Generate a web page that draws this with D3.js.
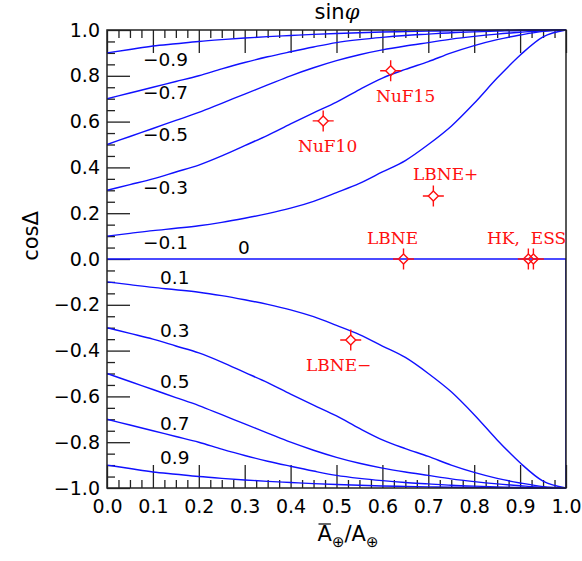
<!DOCTYPE html>
<html><head><meta charset="utf-8">
<script src="https://cdn.jsdelivr.net/npm/d3@7"></script>
<style>body{margin:0;background:#fff}</style></head>
<body>
<svg id="c" width="582" height="561"></svg>
<script>
// ---- data ----
const xGrid = [0,0.05,0.1,0.15,0.2,0.25,0.3,0.35,0.4,0.45,0.5,0.55,0.6,0.65,0.7,0.75,0.8,0.85,0.9,0.95,1.0];
const curveLabels = ["−0.9","−0.7","−0.5","−0.3","−0.1","0.1","0.3","0.5","0.7","0.9"];
const curveM09 = [0.90,0.915,0.93,0.94,0.95,0.958,0.965,0.971,0.976,0.981,0.985,0.988,0.991,0.993,0.995,0.997,0.998,0.999,1,1,1];
const curveM07 = [0.70,0.725,0.75,0.775,0.80,0.83,0.858,0.883,0.905,0.926,0.945,0.958,0.968,0.976,0.982,0.988,0.992,0.995,0.998,0.999,1];
const curveM05 = [0.50,0.535,0.57,0.605,0.64,0.68,0.72,0.76,0.80,0.835,0.866,0.892,0.913,0.93,0.945,0.96,0.972,0.982,0.99,0.997,1];
const curveM03 = [0.30,0.325,0.35,0.38,0.41,0.45,0.495,0.54,0.59,0.638,0.685,0.74,0.79,0.828,0.862,0.90,0.932,0.958,0.978,0.994,1];
const curveM01 = [0.10,0.112,0.124,0.134,0.145,0.160,0.178,0.198,0.222,0.252,0.29,0.33,0.38,0.43,0.50,0.58,0.68,0.79,0.89,0.97,1];
const curveP01 = [-0.10,-0.112,-0.124,-0.134,-0.145,-0.160,-0.178,-0.198,-0.222,-0.252,-0.29,-0.33,-0.38,-0.43,-0.50,-0.58,-0.68,-0.79,-0.89,-0.97,-1];
const curveP03 = [-0.30,-0.325,-0.35,-0.38,-0.41,-0.45,-0.495,-0.54,-0.59,-0.638,-0.685,-0.74,-0.79,-0.828,-0.862,-0.90,-0.932,-0.958,-0.978,-0.994,-1];
const curveP05 = [-0.50,-0.535,-0.57,-0.605,-0.64,-0.68,-0.72,-0.76,-0.80,-0.835,-0.866,-0.892,-0.913,-0.93,-0.945,-0.96,-0.972,-0.982,-0.99,-0.997,-1];
const curveP07 = [-0.70,-0.725,-0.75,-0.775,-0.80,-0.83,-0.858,-0.883,-0.905,-0.926,-0.945,-0.958,-0.968,-0.976,-0.982,-0.988,-0.992,-0.995,-0.998,-0.999,-1];
const curveP09 = [-0.90,-0.915,-0.93,-0.94,-0.95,-0.958,-0.965,-0.971,-0.976,-0.981,-0.985,-0.988,-0.991,-0.993,-0.995,-0.997,-0.998,-0.999,-1,-1,-1];
const zeroX = [0, 1, 1];
const zeroY = [0, 0, -1];
const expNames = ["NuF15","NuF10","LBNE+","LBNE","HK","ESS","LBNE−"];
const expX = [0.618,0.471,0.711,0.646,0.918,0.929,0.531];
const expY = [0.822,0.603,0.275,0.0,0.0,0.0,-0.354];
const xTickLabels = ["0.0","0.1","0.2","0.3","0.4","0.5","0.6","0.7","0.8","0.9","1.0"];
const yTickLabels = ["−1.0","−0.8","−0.6","−0.4","−0.2","0.0","0.2","0.4","0.6","0.8","1.0"];

// ---- layout ----
const svg = d3.select("#c");
const L = 107, R = 566, T = 30, B = 488;
const x = d3.scaleLinear([0,1],[L,R]);
const y = d3.scaleLinear([-1,1],[B,T]);
const tickCol = "#222";
const sans = "'DejaVu Sans', sans-serif";
const serif = "'DejaVu Serif', serif";

svg.append("defs").append("clipPath").attr("id","clip")
  .append("rect").attr("x",L).attr("y",T-1).attr("width",R-L).attr("height",B-T+2);

// ticks
const xMajor = d3.range(0,11).map(i=>i/10);
const xMinor = d3.range(0,41).map(i=>i/40).filter(v=>Math.abs(v*10-Math.round(v*10))>1e-6);
const yMajor = d3.range(0,11).map(i=>-1+i*0.2);
const yMinor = d3.range(0,41).map(i=>-1+i*0.05).filter(v=>Math.abs((v+1)*5-Math.round((v+1)*5))>1e-6);

const gB = svg.append("g").attr("transform",`translate(0,${B})`)
  .call(d3.axisBottom(x).tickValues(xMajor).tickSize(-23).tickPadding(12)
    .tickFormat((d,i)=>xTickLabels[i]));
const gBm = svg.append("g").attr("transform",`translate(0,${B})`)
  .call(d3.axisBottom(x).tickValues(xMinor).tickSize(-8).tickFormat(""));
const gT = svg.append("g").attr("transform",`translate(0,${T})`)
  .call(d3.axisTop(x).tickValues(xMajor).tickSize(-23).tickFormat(""));
const gTm = svg.append("g").attr("transform",`translate(0,${T})`)
  .call(d3.axisTop(x).tickValues(xMinor).tickSize(-8).tickFormat(""));
const gL = svg.append("g").attr("transform",`translate(${L},0)`)
  .call(d3.axisLeft(y).tickValues(yMajor).tickSize(-23).tickPadding(7)
    .tickFormat((d,i)=>yTickLabels[i]));
const gLm = svg.append("g").attr("transform",`translate(${L},0)`)
  .call(d3.axisLeft(y).tickValues(yMinor).tickSize(-8).tickFormat(""));
[gB,gBm,gT,gTm,gL,gLm].forEach(g=>{
  g.select(".domain").remove();
  g.selectAll("line").attr("stroke",tickCol).attr("stroke-width",1.3);
  g.selectAll("text").attr("fill","#000").style("font-family",sans).style("font-size","19px");
});

// curves
const line = d3.line().x(d=>x(d[0])).y(d=>y(d[1])).curve(d3.curveMonotoneX);
const cg = svg.append("g").attr("clip-path","url(#clip)");
[curveM09,curveM07,curveM05,curveM03,curveM01,curveP01,curveP03,curveP05,curveP07,curveP09].forEach(c=>{
  cg.append("path").attr("d",line(xGrid.map((v,i)=>[v,c[i]])))
    .attr("fill","none").attr("stroke","#1010ff").attr("stroke-width",1.4);
});

// frame
svg.append("rect").attr("x",L).attr("y",T).attr("width",R-L).attr("height",B-T)
  .attr("fill","none").attr("stroke",tickCol).attr("stroke-width",1.5);

// zero curve
cg.append("path").attr("d",d3.line().x(d=>x(d[0])).y(d=>y(d[1]))(zeroX.map((v,i)=>[v,zeroY[i]])))
  .attr("fill","none").attr("stroke","#1010ff").attr("stroke-width",1.6);

// curve labels
const labPos = [[143,66],[143,99],[143,141],[143,194],[143,249],[160,284],[160,337],[160,388],[160,430],[160,464]];
curveLabels.forEach((t,i)=>{
  svg.append("text").attr("x",labPos[i][0]).attr("y",labPos[i][1]).text(t)
    .style("font-family",sans).style("font-size","18.5px");
});
svg.append("text").attr("x",244).attr("y",254).attr("text-anchor","middle").text("0")
  .style("font-family",sans).style("font-size","18.5px");

// experiment markers
const red = "#ff1010";
const mg = svg.append("g").attr("stroke",red).attr("stroke-width",1.4).attr("fill","none");
expX.forEach((v,i)=>{
  const cx = x(v), cy = y(expY[i]), r = 5, e = 10.5;
  mg.append("path").attr("d",`M${cx-r},${cy}L${cx},${cy-r}L${cx+r},${cy}L${cx},${cy+r}Z`);
  mg.append("path").attr("d",`M${cx-e},${cy}H${cx-r}M${cx+r},${cy}H${cx+e}M${cx},${cy-e}V${cy-r}M${cx},${cy+r}V${cy+e}`);
});
const expLabels = [["NuF15",376,102],["NuF10",298,152],["LBNE+",413,180],["LBNE",367,244],["HK,  ESS",487,244],["LBNE−",306,371]];
expLabels.forEach(d=>{
  svg.append("text").attr("x",d[1]).attr("y",d[2]).text(d[0]).attr("fill",red)
    .style("font-family",serif).style("font-size","17px").style("white-space","pre");
});

// title
const title = svg.append("text").attr("x",337).attr("y",19).attr("text-anchor","middle")
  .style("font-family",sans).style("font-size","21px");
title.append("tspan").text("sin");
title.append("tspan").text("φ").style("font-family",serif).style("font-style","italic");

// y label
svg.append("text").attr("transform","translate(38,236) rotate(-90)").attr("text-anchor","middle")
  .style("font-family",sans).style("font-size","21px").text("cosΔ");

// x label
const xl = svg.append("text").attr("x",348).attr("y",541).attr("text-anchor","middle")
  .style("font-family",sans).style("font-size","21px");
xl.append("tspan").text("A");
xl.append("tspan").text("⊕").attr("dy",6).style("font-size","15px");
xl.append("tspan").text("/").attr("dy",-6);
xl.append("tspan").text("A");
xl.append("tspan").text("⊕").attr("dy",6).style("font-size","15px");
const ext = xl.node().getExtentOfChar(0);
svg.append("line").attr("x1",ext.x+1).attr("x2",ext.x+ext.width-1)
  .attr("y1",ext.y+2).attr("y2",ext.y+2).attr("stroke","#000").attr("stroke-width",1.2);
</script>
</body></html>
